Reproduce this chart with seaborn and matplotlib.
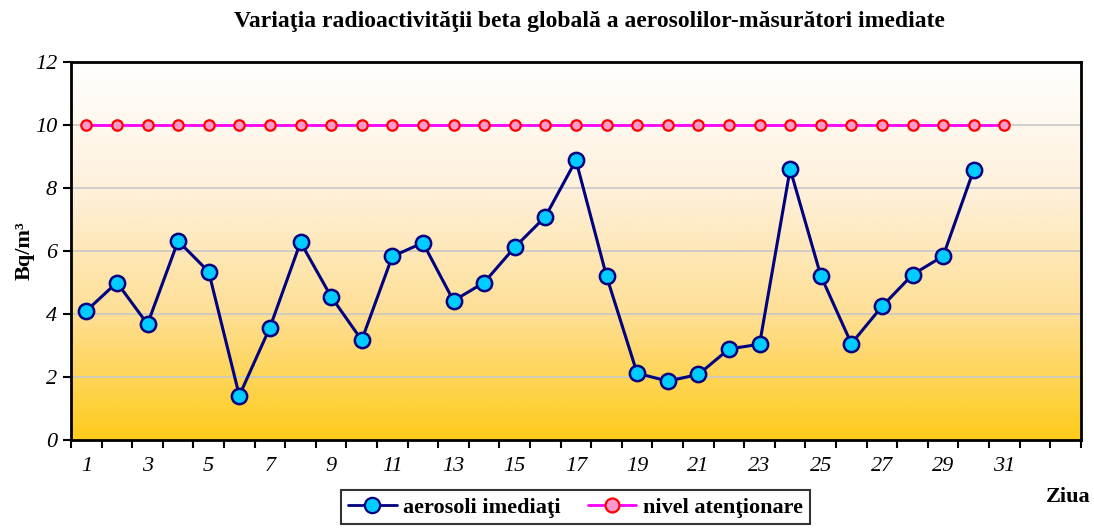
import numpy as np
import pandas as pd
import matplotlib
matplotlib.use("Agg")
import matplotlib.pyplot as plt
from matplotlib.colors import LinearSegmentedColormap
from matplotlib.lines import Line2D
import seaborn as sns

# Daily values (Bq/m3)
days = list(range(1, 32))
aerosoli_imediati = [4.10, 5.00, 3.68, 6.32, 5.34, 1.41, 3.57, 6.28, 4.55, 3.17,
                     5.83, 6.26, 4.42, 5.00, 6.12, 7.09, 8.88, 5.20, 2.12, 1.87,
                     2.08, 2.89, 3.04, 8.60, 5.22, 3.06, 4.24, 5.25, 5.84, 8.58]
nivel_atentionare = [10] * 31
y_ticks = [0, 2, 4, 6, 8, 10, 12]
x_labels = list(range(1, 32, 2))

df_a = pd.DataFrame({"zi": days[:len(aerosoli_imediati)], "val": aerosoli_imediati})
df_n = pd.DataFrame({"zi": days, "val": nivel_atentionare})

sns.set_theme(style="white")
plt.rcParams["font.family"] = ["Liberation Serif", "DejaVu Serif"]
plt.rcParams.update({"text.color": "black", "axes.labelcolor": "black",
                     "xtick.color": "black", "ytick.color": "black"})

fig = plt.figure(figsize=(10.94, 5.29), dpi=100)
ax = fig.add_axes([0.0649, 0.1682, 0.9231, 0.7146])

# vertical gradient background: white at top to gold at bottom
cmap = LinearSegmentedColormap.from_list(
    "sunset", ["#FFFFFF", "#FEF1DC", "#FEDF95", "#FFCB1A"])
grad = np.linspace(0, 1, 256).reshape(-1, 1)
ax.imshow(grad, extent=[0, 1, 0, 1], transform=ax.transAxes, aspect="auto",
          cmap=cmap, origin="upper", zorder=0)

for yv in y_ticks[1:-1]:
    ax.axhline(yv, color="#C8C8C8", lw=1.2, zorder=1)

sns.lineplot(data=df_n, x="zi", y="val", ax=ax, color="#FF00FF", lw=2,
             marker="o", markersize=7.5, markerfacecolor="#FF99CC",
             markeredgecolor="#FF0000", markeredgewidth=1.6, zorder=3)
sns.lineplot(data=df_a, x="zi", y="val", ax=ax, color="#000080", lw=2.2,
             marker="o", markersize=11, markerfacecolor="#00CCFF",
             markeredgecolor="#000080", markeredgewidth=1.8, zorder=4)

ax.set_xlim(0.5, 33.5)
ax.set_ylim(0, 12)
ax.set_yticks(y_ticks)
ax.set_yticklabels([str(v) for v in y_ticks], fontsize=16, style="italic")
ax.set_xticks(x_labels)
ax.set_xticklabels([str(v) for v in x_labels], fontsize=16, style="italic")
ax.set_xticks(np.arange(0.5, 34, 1), minor=True)
ax.tick_params(axis="x", which="major", length=0, pad=12)
ax.tick_params(axis="x", which="minor", length=6, width=1.5, direction="out",
               color="black", bottom=True)
ax.tick_params(axis="y", which="major", length=6, width=1.5, direction="out",
               color="black", left=True, pad=4)
ax.set_xlabel("")
ax.set_ylabel("Bq/m³", fontsize=16, fontweight="bold", labelpad=0)
for s in ax.spines.values():
    s.set_visible(True)
    s.set_color("black")
    s.set_linewidth(2)

fig.suptitle("Variaţia radioactivităţii beta globală a aerosolilor-măsurători imediate",
             x=0.539, y=0.98, fontsize=17, fontweight="bold")
fig.text(0.976, 0.06, "Ziua", fontsize=16, fontweight="bold", ha="center", va="center")

handles = [
    Line2D([], [], color="#000080", lw=2, marker="o", markersize=11,
           markerfacecolor="#00CCFF", markeredgecolor="#000080", markeredgewidth=1.6),
    Line2D([], [], color="#FF00FF", lw=2, marker="o", markersize=10,
           markerfacecolor="#FF99CC", markeredgecolor="#FF0000", markeredgewidth=1.6),
]
leg = fig.legend(handles, ["aerosoli imediaţi", "nivel atenţionare"],
                 loc="center", bbox_to_anchor=(0.526, 0.041), ncol=2,
                 frameon=True, fancybox=False, edgecolor="black",
                 prop={"size": 16, "weight": "bold"}, handlelength=2.2,
                 handletextpad=0.3, columnspacing=1.2, borderpad=0.3)
leg.get_frame().set_linewidth(1.5)

fig.savefig("out.png", dpi=100)
